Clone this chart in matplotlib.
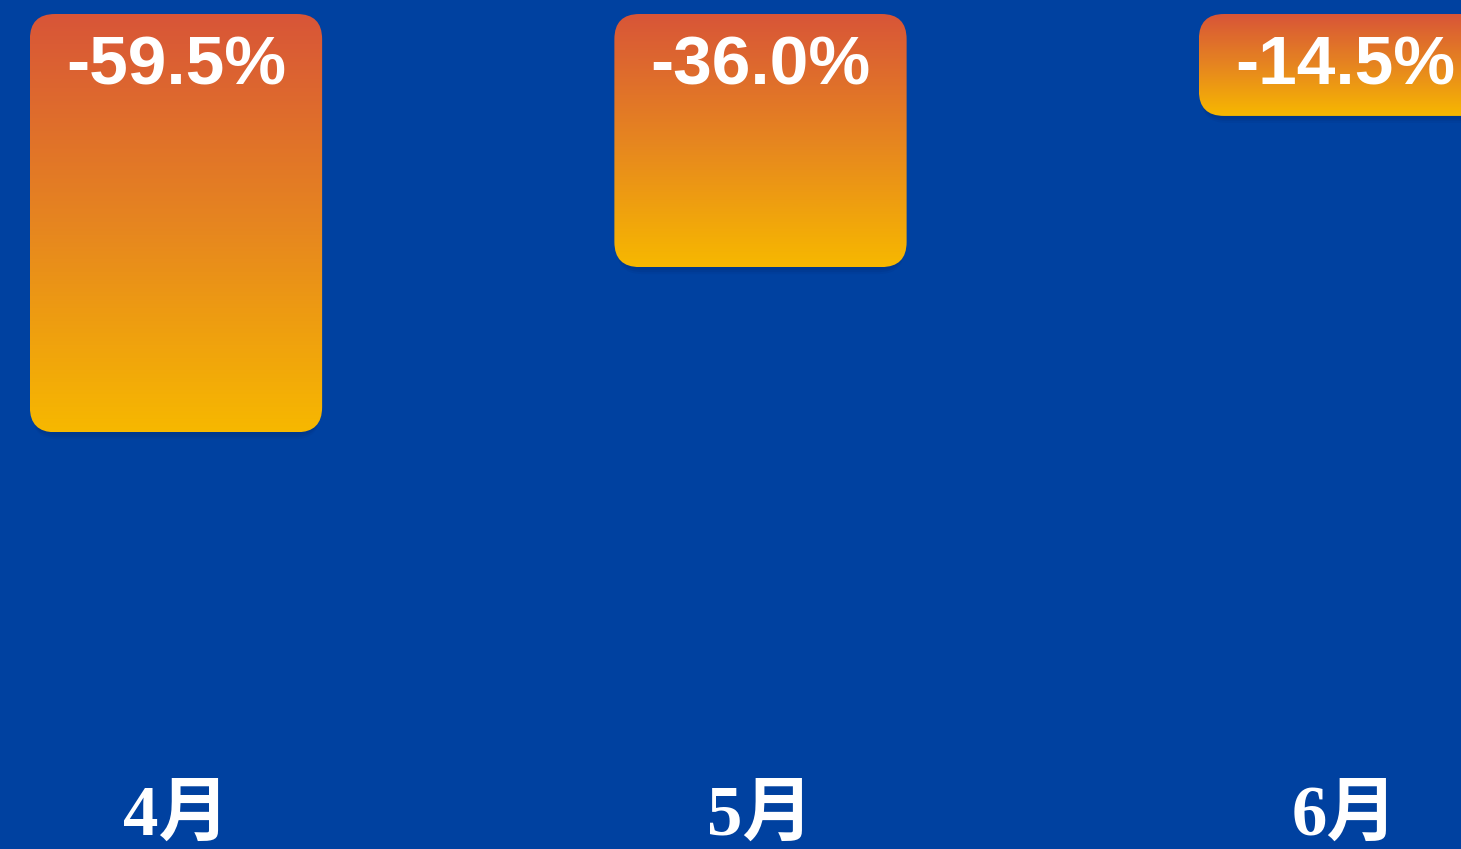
import numpy as np
import matplotlib
matplotlib.use("Agg")
import matplotlib.pyplot as plt
from matplotlib.patches import FancyBboxPatch
from matplotlib.colors import LinearSegmentedColormap

months = ['4月', '5月', '6月']
values = [-59.5, -36.0, -14.5]
labels = ['-59.5%', '-36.0%', '-14.5%']

bg = '#0041a0'
grad = LinearSegmentedColormap.from_list('g', ['#f7b800', '#e68520', '#d85538'])

W, H = 1461, 849
fig = plt.figure(figsize=(W / 100, H / 100), dpi=100, facecolor=bg)
ax = fig.add_axes([0, 0, 1, 1])
ax.set_facecolor(bg)

xstep = 584.5          # px per category
ystep = 7.03           # px per percent
x0, y0 = 176, 14       # px of first category / zero line
ax.set_xlim(-x0 / xstep, (W - x0) / xstep)
ax.set_ylim(-(H - y0) / ystep, y0 / ystep)
ax.axis('off')

width = 0.5
rad = 0.043
aspect = xstep / ystep

for i, (v, lab) in enumerate(zip(values, labels)):
    left = i - width / 2
    # soft shadow
    for k, a in enumerate([0.10, 0.08, 0.06]):
        off = (3 + 2 * k) / ystep
        sh = FancyBboxPatch((left + 0.004, v - off), width - 0.008, -v,
                            boxstyle=f'round,pad=0,rounding_size={rad}',
                            mutation_aspect=aspect, fc='#001a50', ec='none',
                            alpha=a, zorder=1)
        ax.add_patch(sh)
    box = FancyBboxPatch((left, v), width, -v,
                         boxstyle=f'round,pad=0,rounding_size={rad}',
                         mutation_aspect=aspect, fc='none', ec='none', zorder=2)
    ax.add_patch(box)
    im = ax.imshow(np.linspace(0, 1, 256).reshape(-1, 1), cmap=grad, aspect='auto',
                   extent=[left, left + width, v, 0], origin='lower', zorder=2,
                   interpolation='bilinear')
    im.set_clip_path(box)
    ax.text(i, -21 / ystep, lab, ha='center', va='top', color='white',
            fontsize=50, fontweight='bold', family=['Liberation Sans', 'DejaVu Sans'],
            zorder=3)
    ax.text(i, -(H - y0 - 32) / ystep, months[i], ha='center', va='center',
            color='white', fontsize=51, fontweight='bold',
            family=['Liberation Serif', 'Noto Sans CJK SC'], zorder=3)

fig.savefig('out.png', dpi=100, facecolor=bg)
